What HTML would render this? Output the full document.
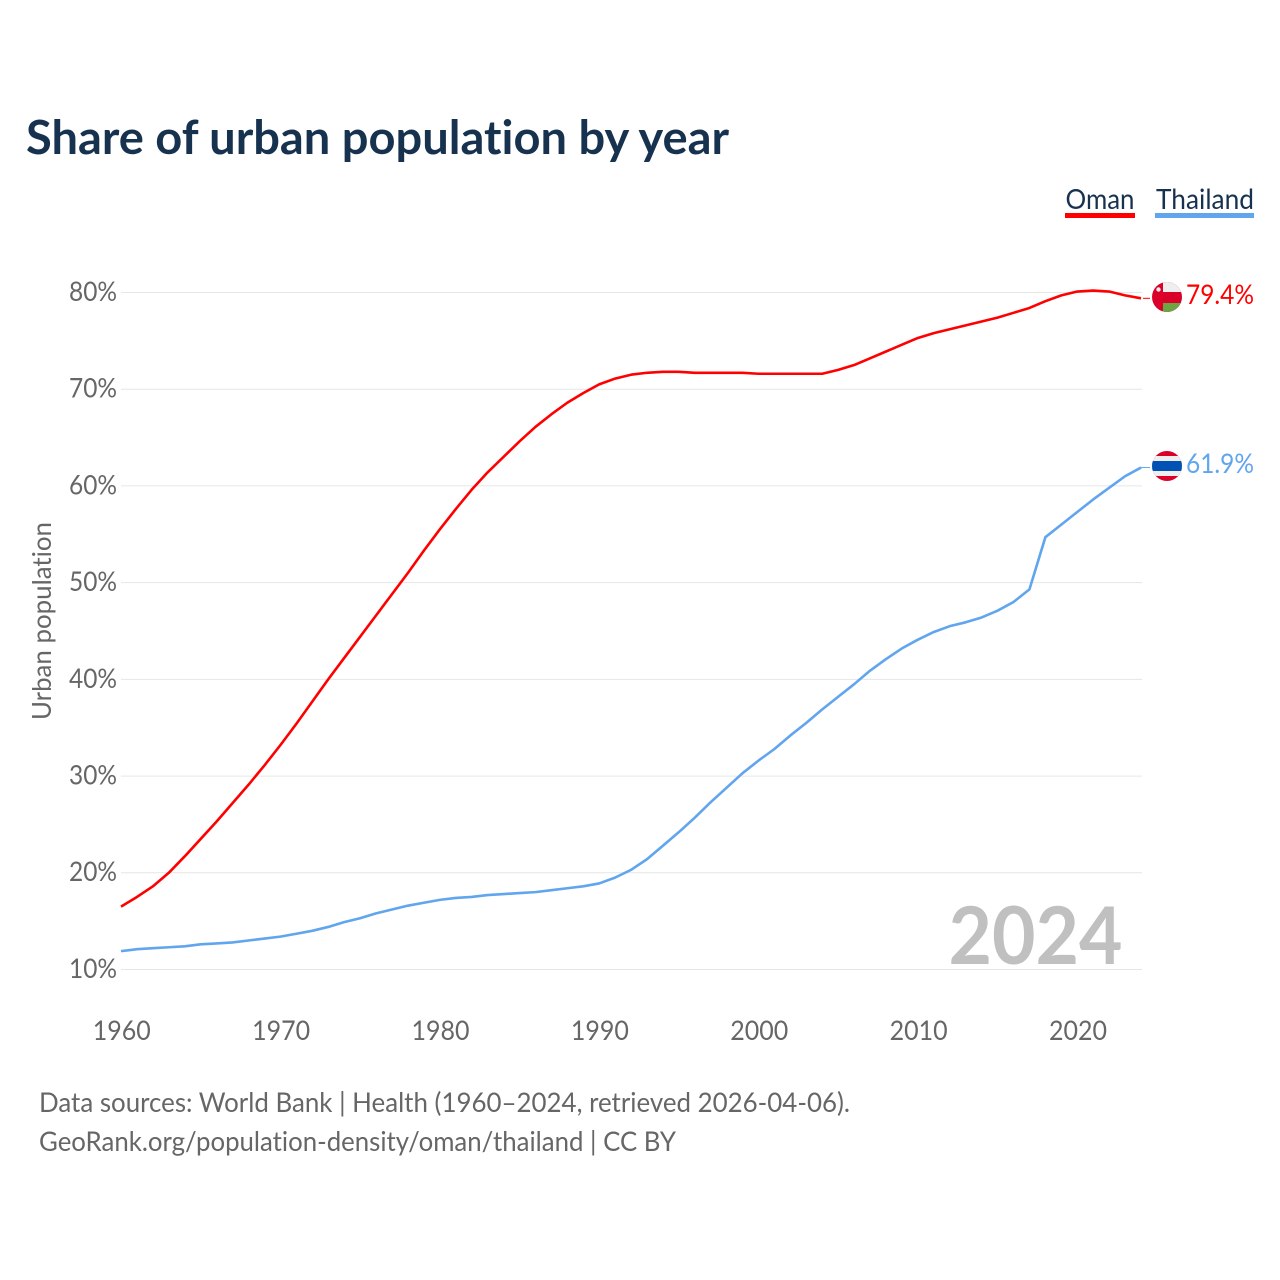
<!DOCTYPE html>
<html lang="en">
<head>
<meta charset="utf-8">
<title>Share of urban population by year</title>
<style>
html,body{margin:0;padding:0;background:#fff;}
svg{display:block;font-family:"Lato","Carlito","Liberation Sans",sans-serif;font-variant-ligatures:none;}
</style>
</head>
<body>
<svg id="chart" width="1280" height="1280" viewBox="0 0 1280 1280" xmlns="http://www.w3.org/2000/svg">
  <defs>
    <clipPath id="clip-oman"><circle cx="1167" cy="297" r="15"></circle></clipPath>
    <clipPath id="clip-thai"><circle cx="1167" cy="466" r="15"></circle></clipPath>
  </defs>
  <text x="26" y="154" font-size="47" font-weight="700" fill="#17324f" textLength="703" lengthAdjust="spacingAndGlyphs">Share of urban population by year</text>

  <text x="1065.5" y="209" font-size="28" fill="#17324f" textLength="69" lengthAdjust="spacingAndGlyphs">Oman</text>
  <rect x="1065" y="213" width="70" height="5" fill="#ff0000"></rect>
  <text x="1156" y="209" font-size="28" fill="#17324f" textLength="98" lengthAdjust="spacingAndGlyphs">Thailand</text>
  <rect x="1155" y="213" width="99" height="5" fill="#60a5ee"></rect>

  <g id="grid"></g>
  <g id="y-ticks"></g>
  <g id="x-ticks"></g>

  <text transform="translate(51,720) rotate(-90)" font-size="26.5" fill="#666666" textLength="198" lengthAdjust="spacingAndGlyphs">Urban population</text>

  <text x="948.5" y="964" font-size="80" font-weight="700" fill="#c0c0c0" textLength="174" lengthAdjust="spacingAndGlyphs">2024</text>

  <g id="series"></g>

  <g clip-path="url(#clip-oman)">
    <rect x="1152" y="282" width="30" height="30" fill="#db0029"></rect>
    <rect x="1163" y="282" width="19" height="10" fill="#eeeeee"></rect>
    <rect x="1163" y="303" width="19" height="9" fill="#6da544"></rect>
    <circle cx="1158.5" cy="289.5" r="2.2" fill="#eeeeee"></circle>
  </g>
  <g clip-path="url(#clip-thai)">
    <rect x="1152" y="451" width="30" height="30" fill="#db0029"></rect>
    <rect x="1152" y="456" width="30" height="20" fill="#eeeeee"></rect>
    <rect x="1152" y="461" width="30" height="10" fill="#0052b4"></rect>
  </g>

  <text id="value-oman" x="1186" y="304" font-size="27" fill="#ff0000" textLength="68" lengthAdjust="spacingAndGlyphs"></text>
  <text id="value-thai" x="1186" y="473" font-size="27" fill="#60a5ee" textLength="68" lengthAdjust="spacingAndGlyphs"></text>

  <text x="39" y="1112" font-size="27.5" fill="#666666" textLength="811" lengthAdjust="spacingAndGlyphs">Data sources: World Bank | Health (1960–2024, retrieved 2026-04-06).</text>
  <text x="39" y="1151" font-size="27.5" fill="#666666" textLength="637" lengthAdjust="spacingAndGlyphs">GeoRank.org/population-density/oman/thailand | CC BY</text>
</svg>
<script>
var startYear = 1960;
var yTickValues = [10, 20, 30, 40, 50, 60, 70, 80];
var xTickValues = [1960, 1970, 1980, 1990, 2000, 2010, 2020];
var omanValues = [16.5, 17.5, 18.6, 20.0, 21.7, 23.5, 25.3, 27.2, 29.1, 31.1, 33.2, 35.4, 37.7, 40.0, 42.2, 44.4, 46.6, 48.8, 51.0, 53.3, 55.5, 57.6, 59.6, 61.4, 63.0, 64.6, 66.1, 67.4, 68.6, 69.6, 70.5, 71.1, 71.5, 71.7, 71.8, 71.8, 71.7, 71.7, 71.7, 71.7, 71.6, 71.6, 71.6, 71.6, 71.6, 72.0, 72.5, 73.2, 73.9, 74.6, 75.3, 75.8, 76.2, 76.6, 77.0, 77.4, 77.9, 78.4, 79.1, 79.7, 80.1, 80.2, 80.1, 79.7, 79.4];
var thailandValues = [11.9, 12.1, 12.2, 12.3, 12.4, 12.6, 12.7, 12.8, 13.0, 13.2, 13.4, 13.7, 14.0, 14.4, 14.9, 15.3, 15.8, 16.2, 16.6, 16.9, 17.2, 17.4, 17.5, 17.7, 17.8, 17.9, 18.0, 18.2, 18.4, 18.6, 18.9, 19.5, 20.3, 21.4, 22.8, 24.2, 25.7, 27.3, 28.8, 30.3, 31.6, 32.8, 34.2, 35.5, 36.9, 38.2, 39.5, 40.9, 42.1, 43.2, 44.1, 44.9, 45.5, 45.9, 46.4, 47.1, 48.0, 49.3, 54.7, 56.0, 57.3, 58.6, 59.8, 61.0, 61.9];

var NS = 'http://www.w3.org/2000/svg';
function xScale(year) { return 121 + (year - 1960) * (1141 - 121) / 64; }
function yScale(pct) { return 969.5 - (pct - 10) * (969.5 - 292.5) / 70; }

var gridGroup = document.getElementById('grid');
var yTickGroup = document.getElementById('y-ticks');
var xTickGroup = document.getElementById('x-ticks');
var seriesGroup = document.getElementById('series');

yTickValues.forEach(function (v) {
  var line = document.createElementNS(NS, 'line');
  
  
  line.setAttribute('x1', xScale(1960));
  line.setAttribute('x2', xScale(2024) + 1);
  line.setAttribute('y1', yScale(v));
  line.setAttribute('y2', yScale(v));
  line.setAttribute('stroke', '#e6e6e6');
  line.setAttribute('stroke-width', '1');
  gridGroup.appendChild(line);

  var label = document.createElementNS(NS, 'text');
  
  
  label.setAttribute('x', 117);
  label.setAttribute('y', yScale(v) + 8.4);
  label.setAttribute('text-anchor', 'end');
  label.setAttribute('font-size', '27');
  label.setAttribute('fill', '#666666');
  label.setAttribute('textLength', '48');
  label.setAttribute('lengthAdjust', 'spacingAndGlyphs');
  label.textContent = v + '%';
  yTickGroup.appendChild(label);
});

xTickValues.forEach(function (y) {
  var label = document.createElementNS(NS, 'text');
  
  
  label.setAttribute('x', xScale(y) + 0.7);
  label.setAttribute('y', 1040);
  label.setAttribute('text-anchor', 'middle');
  label.setAttribute('font-size', '27');
  label.setAttribute('fill', '#666666');
  label.setAttribute('textLength', '58');
  label.setAttribute('lengthAdjust', 'spacingAndGlyphs');
  label.textContent = y;
  xTickGroup.appendChild(label);
});

function buildPath(values) {
  return values.map(function (v, i) {
    return (i ? 'L' : 'M') + xScale(startYear + i).toFixed(2) + ' ' + yScale(v).toFixed(2);
  }).join(' ');
}

var omanLine = document.createElementNS(NS, 'path');


omanLine.setAttribute('d', buildPath(omanValues));
omanLine.setAttribute('fill', 'none');
omanLine.setAttribute('stroke', '#ff0000');
omanLine.setAttribute('stroke-width', '2.6');
omanLine.setAttribute('stroke-linejoin', 'round');
seriesGroup.appendChild(omanLine);

var thaiLine = document.createElementNS(NS, 'path');


thaiLine.setAttribute('d', buildPath(thailandValues));
thaiLine.setAttribute('fill', 'none');
thaiLine.setAttribute('stroke', '#60a5ee');
thaiLine.setAttribute('stroke-width', '2.6');
thaiLine.setAttribute('stroke-linejoin', 'round');
seriesGroup.appendChild(thaiLine);

var omanLast = omanValues[omanValues.length - 1];
var thaiLast = thailandValues[thailandValues.length - 1];

var omanLeader = document.createElementNS(NS, 'line');


omanLeader.setAttribute('x1', xScale(2024) + 2);
omanLeader.setAttribute('x2', xScale(2024) + 9);
omanLeader.setAttribute('y1', yScale(omanLast));
omanLeader.setAttribute('y2', yScale(omanLast));
omanLeader.setAttribute('stroke', '#ff0000');
omanLeader.setAttribute('stroke-width', '1');
seriesGroup.appendChild(omanLeader);

var thaiLeader = document.createElementNS(NS, 'line');


thaiLeader.setAttribute('x1', xScale(2024));
thaiLeader.setAttribute('x2', xScale(2024) + 9);
thaiLeader.setAttribute('y1', yScale(thaiLast));
thaiLeader.setAttribute('y2', yScale(thaiLast));
thaiLeader.setAttribute('stroke', '#60a5ee');
thaiLeader.setAttribute('stroke-width', '1');
seriesGroup.appendChild(thaiLeader);

document.getElementById('value-oman').textContent = omanLast.toFixed(1) + '%';
document.getElementById('value-thai').textContent = thaiLast.toFixed(1) + '%';
</script>
</body>
</html>
